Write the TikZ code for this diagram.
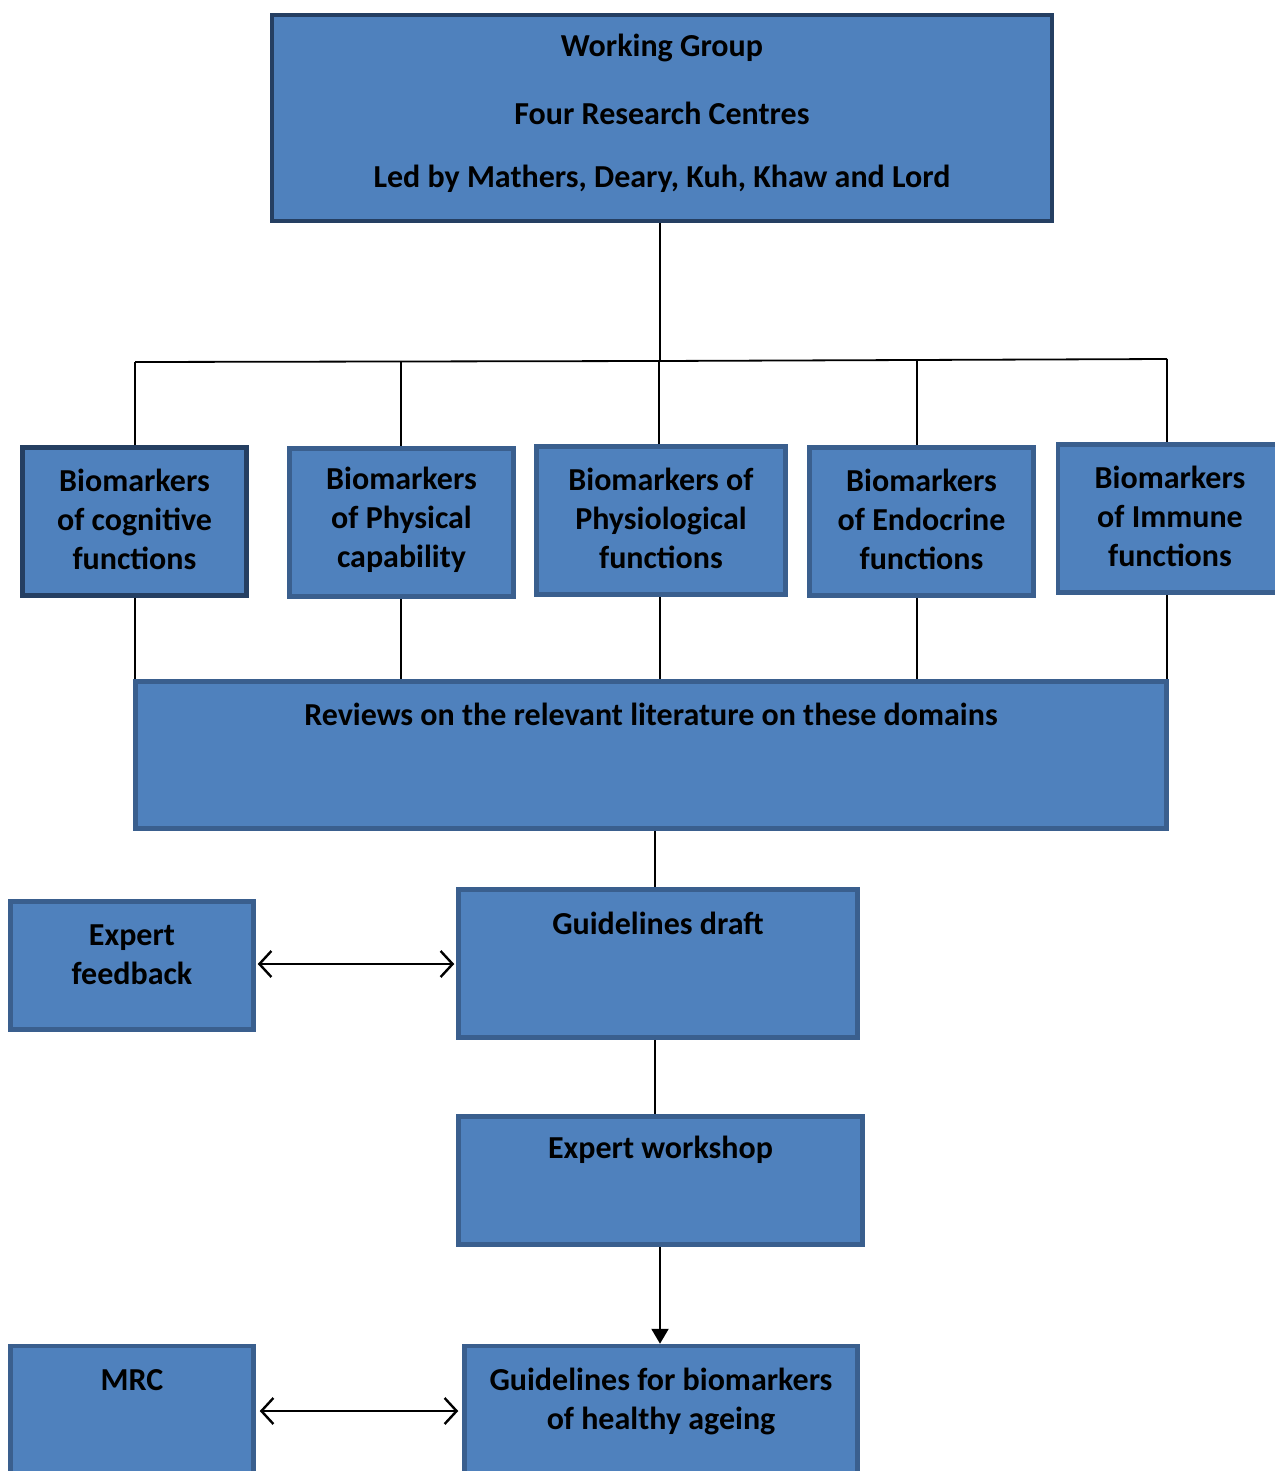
\documentclass[tikz,border=0pt]{standalone}
\usepackage{fontspec}
\setmainfont{Carlito}
\usetikzlibrary{arrows.meta}
\definecolor{boxfill}{HTML}{4F81BD}
\definecolor{boxline}{HTML}{3A5F8E}
\definecolor{boxdark}{HTML}{253F62}
\tikzset{
  box/.style={draw=boxline, fill=boxfill, line width=4.5pt, rectangle, inner sep=0pt},
  darkbox/.style={box, draw=boxdark},
  txt/.style={font=\fontsize{32}{39}\selectfont\bfseries, align=center, inner sep=0pt, text=black},
  conn/.style={line width=1.8pt, black},
  dbl/.style={line width=2.2pt, black, {Straight Barb[length=12pt,width=26pt,line width=2.4pt]}-{Straight Barb[length=12pt,width=26pt,line width=2.4pt]}},
  arr/.style={line width=2.2pt, black, -{Triangle[length=15pt,width=17pt]}}
}
\begin{document}
\begin{tikzpicture}[x=1pt,y=-1pt]
\useasboundingbox (0,0) rectangle (1274,1471);
\fill[white] (0,0) rectangle (1274,1471);
% top box
\node[darkbox, minimum width=780, minimum height=206] (wg) at (662,118) {};
\node[txt] (wgt1) at (662,48) {Working Group};
\node[txt] (wgt2) at (662,113) {Four Research Centres};
\node[txt] (wgt3) at (662,179) {Led by Mathers, Deary, Kuh, Khaw and Lord};
% domain boxes
\node[darkbox, minimum width=224, minimum height=148] (b1) at (134.5,521.5) {};
\node[box, minimum width=224, minimum height=148] (b2) at (401.5,522.5) {};
\node[box, minimum width=249, minimum height=148] (b3) at (661,520.5) {};
\node[box, minimum width=224, minimum height=148] (b4) at (921.5,521.5) {};
\node[box, minimum width=240, minimum height=148] (b5) at (1178,518.5) {};
\node[txt] (b1t) at (134.5,519) {Biomarkers\\of cognitive\\functions};
\node[txt] (b2t) at (401.5,520) {Biomarkers\\of Physical\\capability};
\node[txt] (b3t) at (661,518) {Biomarkers of\\Physiological\\functions};
\node[txt] (b4t) at (921.5,519) {Biomarkers\\of Endocrine\\functions};
\node[txt] (b5t) at (1170,516) {Biomarkers\\of Immune\\functions};
% reviews
\node[box, minimum width=1031, minimum height=147] (rev) at (651,755) {};
\node[txt] (revt) at (651,714) {Reviews on the relevant literature on these domains};
% guidelines draft
\node[box, minimum width=399, minimum height=148] (gd) at (658,963.5) {};
\node[txt] (gdt) at (658,923) {Guidelines draft};
% expert feedback
\node[box, minimum width=243, minimum height=128] (ef) at (132,965.5) {};
\node[txt] (eft) at (132,955) {Expert\\feedback};
% expert workshop
\node[box, minimum width=404, minimum height=128] (ew) at (660.5,1180.5) {};
\node[txt] (ewt) at (660.5,1150) {Expert workshop};
% guidelines for biomarkers
\node[box, minimum width=393, minimum height=140] (gb) at (661,1416) {};
\node[txt] (gbt) at (661,1401) {Guidelines for biomarkers\\of healthy ageing};
% MRC
\node[box, minimum width=243, minimum height=140] (mrc) at (132,1416) {};
\node[txt] (mrct) at (132,1380) {MRC};
% tree connectors
\coordinate (hub) at (660,361);
\coordinate (hl) at (135,362);
\coordinate (hr) at (1167,359);
\draw[conn] (wg.south -| hub) -- (hub);
\draw[conn] (hl) -- (hub) -- (hr);
\draw[conn] (hl) -- (b1.north -| hl);
\draw[conn] (401,362) -- (b2.north -| 401,0);
\draw[conn] (659,361) -- (b3.north -| 659,0);
\draw[conn] (917,360) -- (b4.north -| 917,0);
\draw[conn] (hr) -- (b5.north -| hr);
\draw[conn] (b1.south -| 135,0) -- (rev.north -| 135,0);
\draw[conn] (b2.south -| 401,0) -- (rev.north -| 401,0);
\draw[conn] (b3.south -| 660,0) -- (rev.north -| 660,0);
\draw[conn] (b4.south -| 917,0) -- (rev.north -| 917,0);
\draw[conn] (b5.south -| 1167,0) -- (rev.north -| 1167,0);
\draw[conn] (rev.south -| 655,0) -- (gd.north -| 655,0);
\draw[conn] (gd.south -| 655,0) -- (ew.north -| 655,0);
\draw[arr] (ew.south -| 660,0) -- (gb.north -| 660,0);
\draw[dbl] ([xshift=2pt]ef.east |- 0,964) -- ([xshift=-2pt]gd.west |- 0,964);
\draw[dbl] ([xshift=4pt]mrc.east |- 0,1411) -- ([xshift=-4pt]gb.west |- 0,1411);
\end{tikzpicture}
\end{document}
